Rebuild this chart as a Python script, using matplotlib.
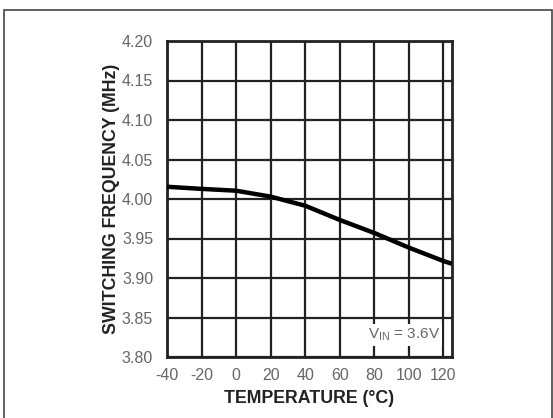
import matplotlib
matplotlib.use("Agg")
import matplotlib.pyplot as plt
from matplotlib.patches import Rectangle

temperature = [-40, -20, 0, 20, 40, 60, 80, 100, 120, 125]
frequency = [4.0155, 4.0128, 4.0105, 4.0030, 3.9915, 3.9735, 3.9570, 3.9385, 3.9215, 3.9180]
x_ticks = [-40, -20, 0, 20, 40, 60, 80, 100, 120]
y_ticks = [3.80, 3.85, 3.90, 3.95, 4.00, 4.05, 4.10, 4.15, 4.20]

plt.rcParams['font.family'] = ['Liberation Sans', 'DejaVu Sans']

fig = plt.figure(figsize=(5.53, 4.18), dpi=100)
fig.patch.set_facecolor('white')
fig.patches.append(Rectangle((4/553, -0.05), (552-4)/553, (418-10)/418 + 0.05,
                             transform=fig.transFigure, fill=False,
                             edgecolor='#444444', linewidth=1.2))

ax = fig.add_axes([167/553, 61/418, 285/553, 316/418])
ax.plot(temperature, frequency, color='black', linewidth=3.2, solid_capstyle='butt', zorder=4)
ax.set_xlim(-40, 125)
ax.set_ylim(3.80, 4.20)
ax.set_xticks(x_ticks)
ax.set_yticks(y_ticks)
ax.set_xticklabels([str(t) for t in x_ticks])
ax.set_yticklabels([f"{v:.2f}" for v in y_ticks])
ax.grid(True, color='#222222', linewidth=1.6)
ax.set_axisbelow(True)
for s in ax.spines.values():
    s.set_linewidth(2.0)
    s.set_color('#222222')
ax.tick_params(length=0, labelsize=11.5, colors='#666666')
ax.tick_params(axis='x', pad=8)
ax.tick_params(axis='y', pad=10)
ax.set_xlabel('TEMPERATURE (°C)', fontsize=12.8, fontweight='bold', color='#222222', labelpad=5)
ax.set_ylabel('SWITCHING FREQUENCY (MHz)', fontsize=12.8, fontweight='bold', color='#222222', labelpad=1.5)
ax.text(97, 3.828, r'V$_{\mathregular{IN}}$ = 3.6V', ha='center', va='center',
        fontsize=11, color='#666666', zorder=3,
        bbox=dict(facecolor='white', edgecolor='none', pad=2))

fig.savefig('out.png', dpi=100)
